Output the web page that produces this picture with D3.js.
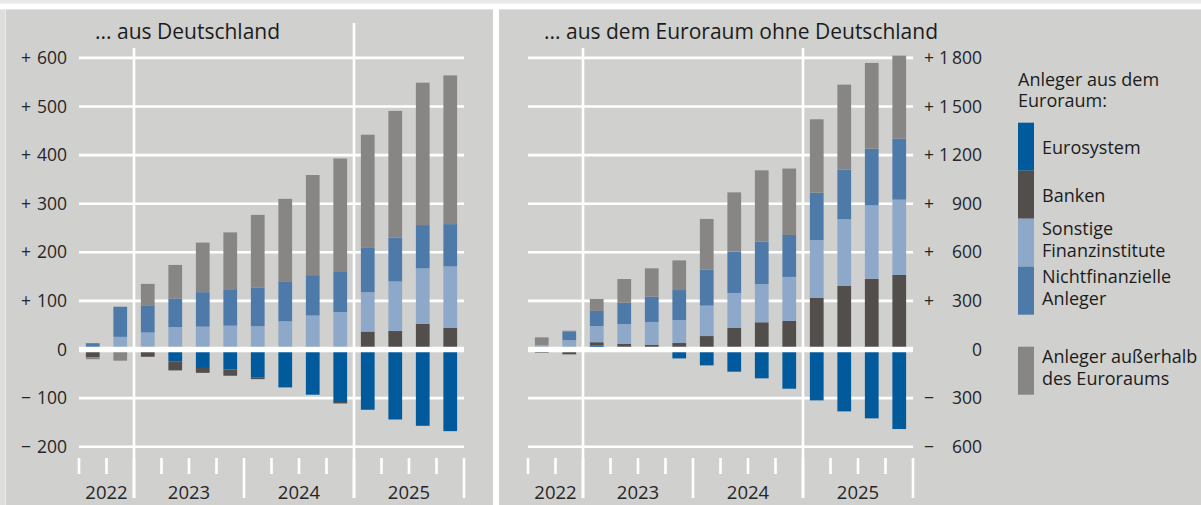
<!DOCTYPE html>
<html>
<head>
<meta charset="utf-8">
<script src="https://cdn.jsdelivr.net/npm/d3@7"></script>
<style>
    body { margin: 0; background: #e9e9e9; }
    svg { display: block; font-family: "Open Sans", sans-serif; }
    .ticklabel { font-size: 17.5px; fill: #262626; }
    .yearlabel { font-size: 18.5px; fill: #262626; }
    .paneltitle { font-size: 21px; fill: #1c1c1c; }
    .legendtext { font-size: 18px; fill: #1c1c1c; }
</style>
</head>
<body>
<script>

// quarters shown on the x axis
const quarters = ['2022 Q3', '2022 Q4',
    '2023 Q1', '2023 Q2', '2023 Q3', '2023 Q4',
    '2024 Q1', '2024 Q2', '2024 Q3', '2024 Q4',
    '2025 Q1', '2025 Q2', '2025 Q3', '2025 Q4'];
const years = ['2022', '2023', '2024', '2025'];

// series keys, stacking order (first = closest to zero)
const keys = ['Eurosystem', 'Banken', 'Sonstige', 'Nichtfinanzielle', 'Ausserhalb'];

// ... aus Deutschland (Mrd Euro)
const deEurosystem = [0, 0, 0, -25, -38, -41, -58, -78, -93, -108, -124, -144, -157, -168];
const deBanken = [-16, 0, -15, -18, -10, -13, -3, 0, 6, -3, 37, 38, 53, 45];
const deSonstige = [0, 26, 35, 46, 47, 49, 48, 58, 64, 77, 81, 102, 114, 126];
const deNichtfin = [13, 62, 56, 59, 71, 75, 79, 81, 83, 84, 91, 90, 89, 87];
const deAusserhalb = [-4, -23, 44, 69, 102, 117, 150, 171, 206, 232, 233, 261, 293, 306];

// ... aus dem Euroraum ohne Deutschland (Mrd Euro)
const euEurosystem = [17, 0, 25, 0, 0, -55, -98, -137, -178, -242, -314, -382, -425, -491];
const euBanken = [-20, -30, 20, 34, 30, 40, 83, 133, 168, 176, 320, 392, 437, 460];
const euSonstige = [11, 58, 100, 123, 140, 142, 188, 216, 236, 272, 356, 412, 453, 465];
const euNichtfin = [0, 54, 93, 132, 156, 185, 222, 255, 262, 259, 292, 306, 350, 377];
const euAusserhalb = [47, 4, 74, 146, 175, 183, 313, 366, 440, 410, 453, 525, 529, 512];

// tick values
const deTicks = [-200, -100, 0, 100, 200, 300, 400, 500, 600];
const euTicks = [-600, -300, 0, 300, 600, 900, 1200, 1500, 1800];

// legend
const legendTitle = ['Anleger aus dem', 'Euroraum:'];
const legendLabels = {
    'Eurosystem': ['Eurosystem'],
    'Banken': ['Banken'],
    'Sonstige': ['Sonstige', 'Finanzinstitute'],
    'Nichtfinanzielle': ['Nichtfinanzielle', 'Anleger'],
    'Ausserhalb': ['Anleger außerhalb', 'des Euroraums']
};

const colors = {
    'Eurosystem': '#005a9b',
    'Banken': '#524e4b',
    'Sonstige': '#8ea8c9',
    'Nichtfinanzielle': '#4e7aa9',
    'Ausserhalb': '#878685'
};

const width = 1201;
const height = 505;
const panelBg = '#d0d0cf';

const numFmt = d3.formatLocale({ decimal: ',', thousands: '\u2009', grouping: [3], currency: ['', ' €'] }).format(',d');

let svg = d3.select('body').append('svg')
    .attr('width', width)
    .attr('height', height);

// frame: light page strips, white separators and the two grey panels
svg.append('rect').attr('x', 0).attr('y', 0).attr('width', width).attr('height', height).attr('fill', '#e9e9e9');
svg.append('rect').attr('x', 0).attr('y', 3.5).attr('width', width).attr('height', 6).attr('fill', '#ffffff');
svg.append('rect').attr('x', 0).attr('y', 9.5).attr('width', 5).attr('height', height).attr('fill', '#dedede');
svg.append('rect').attr('x', 6).attr('y', 9.5).attr('width', 487).attr('height', height).attr('fill', panelBg);
svg.append('rect').attr('x', 493).attr('y', 9.5).attr('width', 6).attr('height', height).attr('fill', '#ffffff');
svg.append('rect').attr('x', 499).attr('y', 9.5).attr('width', width - 499).attr('height', height).attr('fill', panelBg);


class stackedPanel {

    constructor(opts) {
        this.opts = opts;
        this.x = d3.scaleBand()
            .domain(quarters)
            .range([opts.x0, opts.x1])
            .paddingInner(0.5)
            .paddingOuter(0.25);
        this.y = d3.scaleLinear()
            .domain(opts.domain)
            .range([446.7, 57.9]);
        this.g = svg.append('g');
    }

    draw() {
        let x = this.x, y = this.y, opts = this.opts, g = this.g;
        let step = x.step();
        let x0 = opts.x0, x1 = opts.x1;
        let boundary = i => x0 + i * step;

        // horizontal grid
        g.append('g')
            .selectAll('line')
            .data(opts.ticks.filter(t => t !== 0))
            .enter()
            .append('line')
            .attr('x1', x0).attr('x2', x1)
            .attr('y1', d => y(d)).attr('y2', d => y(d))
            .attr('stroke', '#ffffff')
            .attr('stroke-width', 2.6);

        // year separators running through the plot
        g.append('g')
            .selectAll('line')
            .data(opts.separators)
            .enter()
            .append('line')
            .attr('x1', d => boundary(d.i)).attr('x2', d => boundary(d.i))
            .attr('y1', d => d.top).attr('y2', 498)
            .attr('stroke', '#ffffff')
            .attr('stroke-width', 2.6);

        // quarter ticks at the bottom, long ones at year ends
        let yearEnds = [];
        let count = 0;
        years.forEach(yr => {
            count += quarters.filter(q => q.startsWith(yr)).length;
            yearEnds.push(count);
        });
        g.append('g')
            .selectAll('line')
            .data(d3.range(quarters.length + 1))
            .enter()
            .append('line')
            .attr('x1', d => boundary(d)).attr('x2', d => boundary(d))
            .attr('y1', 458)
            .attr('y2', d => yearEnds.indexOf(d) !== -1 ? 498 : 474)
            .attr('stroke', '#ffffff')
            .attr('stroke-width', 2.6);

        // year labels centred on their quarters
        let start = 0;
        years.forEach((yr, i) => {
            let mid = (boundary(start) + boundary(yearEnds[i])) / 2;
            g.append('text')
                .classed('yearlabel', true)
                .attr('x', mid)
                .attr('y', 498.5)
                .attr('text-anchor', 'middle')
                .text(yr);
            start = yearEnds[i];
        });

        // stacked bars
        let table = quarters.map((q, i) => {
            let row = { 'quarter': q };
            keys.forEach(k => { row[k] = opts.series[k][i]; });
            return row;
        });
        let stacked = d3.stack()
            .keys(keys)
            .offset(d3.stackOffsetDiverging)(table);

        g.append('g')
            .selectAll('g')
            .data(stacked)
            .enter()
            .append('g')
            .attr('fill', d => colors[d.key])
            .selectAll('rect')
            .data(d => d)
            .enter()
            .append('rect')
            .attr('x', d => x(d.data.quarter))
            .attr('width', x.bandwidth())
            .attr('y', d => y(Math.max(d[0], d[1])))
            .attr('height', d => Math.abs(y(d[0]) - y(d[1])));

        // zero line on top of the bars
        g.append('line')
            .attr('x1', x0).attr('x2', x1)
            .attr('y1', y(0)).attr('y2', y(0))
            .attr('stroke', '#ffffff')
            .attr('stroke-width', 5.5);

        // y tick labels: sign and number set apart
        let labels = g.append('g')
            .selectAll('g')
            .data(opts.ticks)
            .enter()
            .append('g')
            .attr('transform', d => 'translate(0,' + (y(d) + 6) + ')');
        labels.append('text')
            .classed('ticklabel', true)
            .attr('x', opts.signX)
            .text(d => d > 0 ? '+' : (d < 0 ? '\u2212' : ''));
        labels.append('text')
            .classed('ticklabel', true)
            .attr('x', opts.numX)
            .attr('text-anchor', 'end')
            .text(d => numFmt(Math.abs(d)));

        // panel title
        g.append('text')
            .classed('paneltitle', true)
            .attr('x', opts.titleX)
            .attr('y', 39)
            .text(opts.title);
    }
}

let dePanel = new stackedPanel({
    'x0': 79, 'x1': 464,
    'domain': [-200, 600],
    'ticks': deTicks,
    'signX': 21, 'numX': 67,
    'titleX': 95,
    'title': '... aus Deutschland',
    'separators': [{ 'i': 2, 'top': 48 }, { 'i': 10, 'top': 23 }],
    'series': {
        'Eurosystem': deEurosystem,
        'Banken': deBanken,
        'Sonstige': deSonstige,
        'Nichtfinanzielle': deNichtfin,
        'Ausserhalb': deAusserhalb
    }
});
dePanel.draw();

let euPanel = new stackedPanel({
    'x0': 528, 'x1': 913,
    'domain': [-600, 1800],
    'ticks': euTicks,
    'signX': 924, 'numX': 982,
    'titleX': 544,
    'title': '... aus dem Euroraum ohne Deutschland',
    'separators': [{ 'i': 2, 'top': 48 }, { 'i': 10, 'top': 48 }],
    'series': {
        'Eurosystem': euEurosystem,
        'Banken': euBanken,
        'Sonstige': euSonstige,
        'Nichtfinanzielle': euNichtfin,
        'Ausserhalb': euAusserhalb
    }
});
euPanel.draw();

// legend
let legend = svg.append('g').attr('transform', 'translate(1018,0)');

legend.selectAll('text.legendtitle')
    .data(legendTitle)
    .enter()
    .append('text')
    .classed('legendtext', true)
    .attr('x', 0)
    .attr('y', (d, i) => 86 + i * 21)
    .text(d => d);

let swatchTop = { 'Eurosystem': 122.7, 'Banken': 170.7, 'Sonstige': 218.7, 'Nichtfinanzielle': 266.7, 'Ausserhalb': 346.7 };

keys.forEach(k => {
    let top = swatchTop[k];
    legend.append('rect')
        .attr('x', 0)
        .attr('y', top)
        .attr('width', 16)
        .attr('height', 48)
        .attr('fill', colors[k]);
    let lines = legendLabels[k];
    let first = lines.length === 1 ? top + 31 : top + 16.5;
    legend.selectAll(null)
        .data(lines)
        .enter()
        .append('text')
        .classed('legendtext', true)
        .attr('x', 24)
        .attr('y', (d, i) => first + i * 21.3)
        .text(d => d);
});

</script>
</body>
</html>
